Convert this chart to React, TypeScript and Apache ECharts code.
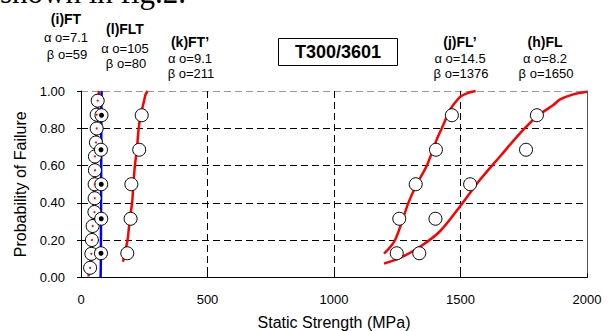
import React, { useEffect, useRef } from "react";
import * as echarts from "echarts";

// ---- data ----
const xTicks = [0, 500, 1000, 1500, 2000];
const yTicks = [0, 0.2, 0.4, 0.6, 0.8, 1.0];

// median ranks
const rank13 = [0.052, 0.127, 0.201, 0.276, 0.351, 0.425, 0.5, 0.575, 0.649, 0.724, 0.799, 0.873, 0.948];
const rank5 = [0.13, 0.315, 0.5, 0.685, 0.87];

// test points (MPa)
const ftX = [36, 41, 43, 46, 53, 54, 54, 55, 55, 59, 62, 62, 66];
const fltX = [79, 80, 80, 79, 81];
const ftpX = [183, 196, 199, 230, 240];
const flpX = [1248, 1258, 1323, 1403, 1466];
const flX = [1337, 1401, 1538, 1759, 1802];

// fitted Weibull curves: [MPa, probability]
const ftCurve = [[29, 0.005], [33, 0.03], [36, 0.06], [40, 0.13], [43, 0.2], [46, 0.28], [50, 0.4], [53, 0.5], [56, 0.62], [59, 0.72], [62, 0.8], [65, 0.9], [68, 0.96], [71, 1.0]];
const fltCurve = [[77.5, 0], [78.5, 0.1], [79.5, 0.5], [80.5, 0.9], [81.5, 1.0]];
const ftpCurve = [[166, 0.085], [176, 0.15], [184, 0.2], [193, 0.315], [202, 0.4], [207, 0.5], [213, 0.6], [221, 0.69], [228, 0.8], [236, 0.87], [248, 0.94], [255, 0.98], [263, 1.0]];
const flpCurve = [[1198, 0.128], [1241, 0.2], [1294, 0.4], [1327, 0.5], [1367, 0.6], [1406, 0.74], [1426, 0.8], [1459, 0.9], [1480, 0.94], [1500, 0.97], [1530, 0.99], [1560, 1.0]];
const flCurve = [[1198, 0.075], [1261, 0.105], [1340, 0.165], [1419, 0.248], [1498, 0.381], [1577, 0.524], [1656, 0.649], [1736, 0.774], [1802, 0.863], [1867, 0.925], [1894, 0.955], [1946, 0.982], [2000, 0.996]];

// annotation texts
const groupTitles = ["(i)FT", "(l)FLT", "(k)FT\u2019", "(j)FL\u2019", "(h)FL"];
const alphaTexts = ["\u03b1 o=7.1", "\u03b1 o=105", "\u03b1 o=9.1", "\u03b1 o=14.5", "\u03b1 o=8.2"];
const betaTexts = ["\u03b2 o=59", "\u03b2 o=80", "\u03b2 o=211", "\u03b2 o=1376", "\u03b2 o=1650"];
const boxTitle = "T300/3601";
const headText = "shown in fig.2.";

const FONT = "Liberation Sans, Arial, sans-serif";

// text block anchor positions (centres)
const blockPos = [
  { x: 66, y: 19, dy1: 18, dy2: 35 },
  { x: 125, y: 29, dy1: 19, dy2: 34 },
  { x: 190, y: 42, dy1: 16, dy2: 31 },
  { x: 460, y: 42, dy1: 16, dy2: 31 },
  { x: 545, y: 42, dy1: 16, dy2: 31 },
];

function pts(xs: number[], ps: number[]) {
  return xs.map((x, i) => [x, ps[i]]);
}

function txt(text: string, x: number, y: number, font: string, align = "center") {
  return {
    type: "text",
    x,
    y,
    z: 100,
    style: {
      text,
      font,
      fill: "#000",
      textAlign: align,
      textVerticalAlign: "middle",
      align,
      verticalAlign: "middle",
    },
  };
}

export default function App() {
  const ref = useRef<HTMLDivElement>(null);
  useEffect(() => {
    if (!ref.current) return;
    const chart = echarts.init(ref.current, undefined, { renderer: "svg" });

    const graphic: any[] = [];
    graphic.push({
      type: "text",
      x: 0,
      y: -8,
      z: 90,
      style: {
        text: headText,
        font: "31px Liberation Serif, Times New Roman, serif",
        fill: "#000",
        textAlign: "left",
        align: "left",
        textVerticalAlign: "middle",
        verticalAlign: "middle",
      },
    });
    blockPos.forEach((b, i) => {
      graphic.push(txt(groupTitles[i], b.x, b.y, `bold 14px ${FONT}`));
      graphic.push(txt(alphaTexts[i], b.x, b.y + b.dy1, `13px ${FONT}`));
      graphic.push(txt(betaTexts[i], b.x + 1, b.y + b.dy2, `13px ${FONT}`));
    });
    graphic.push({
      type: "rect",
      z: 100,
      shape: { x: 278.5, y: 38.5, width: 119, height: 27 },
      style: { fill: "#fff", stroke: "#000", lineWidth: 1 },
    });
    graphic.push(txt(boxTitle, 338, 52, `bold 18px ${FONT}`));

    const curve = (name: string, data: number[][], color: string) => ({
      name,
      type: "line",
      data,
      smooth: 0.3,
      showSymbol: false,
      symbol: "none",
      z: 2,
      lineStyle: { color, width: 2.5 },
    });
    const circles = (name: string, data: number[][]) => ({
      name,
      type: "scatter",
      data,
      symbol: "circle",
      symbolSize: 13,
      z: 3,
      itemStyle: { color: "#fff", borderColor: "#000", borderWidth: 1, opacity: 1 },
    });
    const dots = (name: string, data: number[][], color: string, size: number) => ({
      name,
      type: "scatter",
      data,
      symbol: "circle",
      symbolSize: size,
      z: 4,
      itemStyle: { color, borderWidth: 0, opacity: 1 },
    });

    chart.setOption({
      animation: false,
      graphic,
      grid: {
        left: 81,
        right: 25,
        top: 91,
        bottom: 53.5,
        containLabel: false,
        outerBoundsMode: "none",
      },
      xAxis: {
        type: "value",
        min: xTicks[0],
        max: xTicks[xTicks.length - 1],
        interval: xTicks[1] - xTicks[0],
        name: "Static Strength (MPa)",
        nameLocation: "middle",
        nameGap: 37,
        nameTextStyle: { fontFamily: FONT, fontSize: 16, color: "#000" },
        axisLine: { show: true, lineStyle: { color: "#000", width: 1 } },
        axisTick: { show: true, inside: true, length: 4, lineStyle: { color: "#000" } },
        axisLabel: {
          fontFamily: FONT,
          fontSize: 13,
          color: "#000",
          margin: 15,
          showMinLabel: true,
          showMaxLabel: true,
          formatter: (v: number) => String(v),
        },
        splitLine: {
          show: true,
          lineStyle: { color: ["#000", "#000", "#000", "#000", "rgba(0,0,0,0)"], type: [7, 4], width: 1 },
        },
      },
      yAxis: [
        {
          type: "value",
          min: yTicks[0],
          max: yTicks[yTicks.length - 1],
          interval: 0.2,
          name: "Probability of Failure",
          nameLocation: "middle",
          nameGap: 50,
          nameTextStyle: { fontFamily: FONT, fontSize: 16, color: "#000" },
          axisLine: { show: true, lineStyle: { color: "#000", width: 1 } },
          axisTick: { show: true, inside: false, length: 4, lineStyle: { color: "#000" } },
          axisLabel: {
            fontFamily: FONT,
            fontSize: 13,
            color: "#000",
            margin: 16,
            formatter: (v: number) => v.toFixed(2),
          },
          splitLine: {
            show: true,
            lineStyle: { color: ["#000", "#000", "#000", "#000", "#000", "#999"], type: [7, 4], width: 1 },
          },
        },
        {
          type: "value",
          position: "right",
          min: 0,
          max: 1,
          interval: 0.2,
          axisLine: { show: true, lineStyle: { color: "#555", width: 1 } },
          axisTick: { show: false },
          axisLabel: { show: false },
          splitLine: { show: false },
        },
      ],
      series: [
        curve("FT fit", ftCurve, "#ff0000"),
        curve("FLT fit", fltCurve, "#0000ff"),
        curve("FT' fit", ftpCurve, "#ff0000"),
        curve("FL' fit", flpCurve, "#ff0000"),
        curve("FL fit", flCurve, "#ff0000"),
        circles("FT", pts(ftX, rank13)),
        dots("FT centre", pts(ftX, rank13), "#ff0000", 2),
        circles("FLT", pts(fltX, rank5)),
        dots("FLT centre", pts(fltX, rank5), "#000", 5),
        circles("FT'", pts(ftpX, rank5)),
        circles("FL'", pts(flpX, rank5)),
        circles("FL", pts(flX, rank5)),
      ],
    });
    return () => chart.dispose();
  }, []);

  return (
    <div
      ref={ref}
      style={{ position: "fixed", left: 0, top: 0, width: 612, height: 331, background: "#fff" }}
    />
  );
}
